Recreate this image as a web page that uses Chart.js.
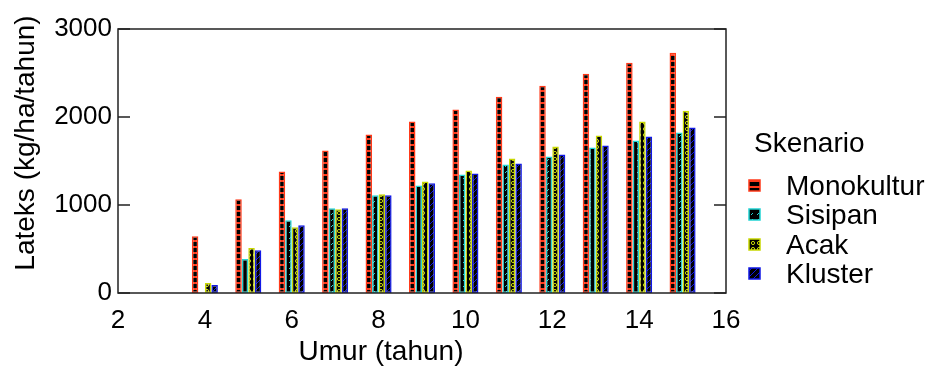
<!DOCTYPE html>
<html>
<head>
<meta charset="utf-8">
<script src="https://cdn.jsdelivr.net/npm/chart.js@4.4.1/dist/chart.umd.min.js"></script>
<style>
	html, body { margin: 0; padding: 0; background: #fff; }
	#wrap { width: 933px; height: 367px; }
</style>
</head>
<body>
<div id="wrap"><canvas id="chart" width="933" height="367"></canvas></div>
<script>
// Data
const years = [4, 5, 6, 7, 8, 9, 10, 11, 12, 13, 14, 15];
const monokultur = [645, 1065, 1382, 1620, 1800, 1948, 2084, 2231, 2356, 2491, 2616, 2729];
const sisipan = [0, 385, 827, 963, 1110, 1223, 1348, 1461, 1552, 1653, 1733, 1823];
const acak = [113, 510, 747, 951, 1121, 1268, 1393, 1529, 1665, 1789, 1948, 2072];
const kluster = [90, 487, 770, 963, 1110, 1246, 1359, 1472, 1574, 1676, 1778, 1880];
const seriesNames = ["Monokultur", "Sisipan", "Acak", "Kluster"];
const yTicks = [0, 1000, 2000, 3000];

const FONT = "Liberation Sans, Arial, sans-serif";
const colors = ["#ff3a1a", "#22d4d4", "#c8d800", "#1018e6"];

// Small hatch tiles: black ground with coloured marks
function makePattern(kind, color) {
	const c = document.createElement("canvas");
	c.width = 6;
	c.height = 6;
	const g = c.getContext("2d");
	g.fillStyle = "#000";
	g.fillRect(0, 0, 6, 6);
	g.strokeStyle = color;
	g.fillStyle = color;
	g.lineWidth = 1;
	if (kind === "h") {
		g.fillRect(0, 0, 6, 2);
	} else if (kind === "d") {
		g.beginPath();
		g.moveTo(1, 5);
		g.lineTo(3, 3);
		g.stroke();
	} else if (kind === "o") {
		g.beginPath();
		g.arc(3, 3, 1.6, 0, Math.PI * 2);
		g.stroke();
	} else {
		g.beginPath();
		g.moveTo(0, 6);
		g.lineTo(6, 0);
		g.stroke();
	}
	return g.createPattern(c, "repeat");
}

const kinds = ["h", "d", "o", "l"];
const patterns = kinds.map((k, i) => makePattern(k, colors[i]));
const seriesValues = [monokultur, sisipan, acak, kluster];

const datasets = seriesValues.map((vals, i) => ({
	label: seriesNames[i],
	data: years.map((yr, j) => ({ x: yr, y: vals[j] })),
	backgroundColor: patterns[i],
	borderColor: colors[i],
	borderWidth: 1.5,
	borderSkipped: false,
	categoryPercentage: 0.6,
	barPercentage: 1.0,
}));

// Frame, inward ticks, axis titles and legend
const decorations = {
	id: "decorations",
	afterDraw(chart) {
		const { ctx, chartArea: a, scales } = chart;
		ctx.save();
		ctx.strokeStyle = "#222";
		ctx.lineWidth = 1.5;
		ctx.strokeRect(a.left, a.top, a.right - a.left, a.bottom - a.top);
		ctx.beginPath();
		yTicks.forEach((v) => {
			const y = scales.y.getPixelForValue(v);
			ctx.moveTo(a.left, y);
			ctx.lineTo(a.left + 12, y);
			ctx.moveTo(a.right, y);
			ctx.lineTo(a.right - 12, y);
		});
		ctx.stroke();

		ctx.fillStyle = "#000";
		ctx.font = "28px " + FONT;
		ctx.textAlign = "center";
		ctx.textBaseline = "middle";
		ctx.fillText("Umur (tahun)", 381, 352);

		ctx.save();
		ctx.translate(26, 143);
		ctx.rotate(-Math.PI / 2);
		ctx.fillText("Lateks (kg/ha/tahun)", 0, 0);
		ctx.restore();

		ctx.textAlign = "left";
		ctx.fillText("Skenario", 754, 144);
		const rows = [186, 215, 245, 274];
		seriesNames.forEach((name, i) => {
			ctx.fillStyle = patterns[i];
			ctx.fillRect(749, rows[i] - 6, 11, 11);
			ctx.strokeStyle = colors[i];
			ctx.lineWidth = 1.5;
			ctx.strokeRect(749, rows[i] - 6, 11, 11);
			ctx.fillStyle = "#000";
			ctx.fillText(name, 786, rows[i] + 1);
		});
		ctx.restore();
	},
};

new Chart(document.getElementById("chart"), {
	type: "bar",
	data: { datasets },
	options: {
		responsive: false,
		animation: false,
		layout: { padding: { top: 29, right: 207, left: 0, bottom: 0 } },
		scales: {
			x: {
				type: "linear",
				min: 2,
				max: 16,
				offset: false,
				grid: { display: false, drawTicks: false },
				border: { display: false },
				ticks: {
					stepSize: 2,
					autoSkip: false,
					maxRotation: 0,
					padding: 12,
					color: "#000",
					font: { family: FONT, size: 26 },
				},
				afterFit(scale) { scale.height = 74; },
			},
			y: {
				min: 0,
				max: 3000,
				grid: { display: false, drawTicks: false },
				border: { display: false },
				ticks: {
					stepSize: 1000,
					padding: 6,
					color: "#000",
					font: { family: FONT, size: 26 },
					callback: (v) => String(v),
				},
				afterFit(scale) { scale.width = 118; },
			},
		},
		plugins: {
			legend: { display: false },
			tooltip: { enabled: false },
		},
	},
	plugins: [decorations],
});
</script>
</body>
</html>
